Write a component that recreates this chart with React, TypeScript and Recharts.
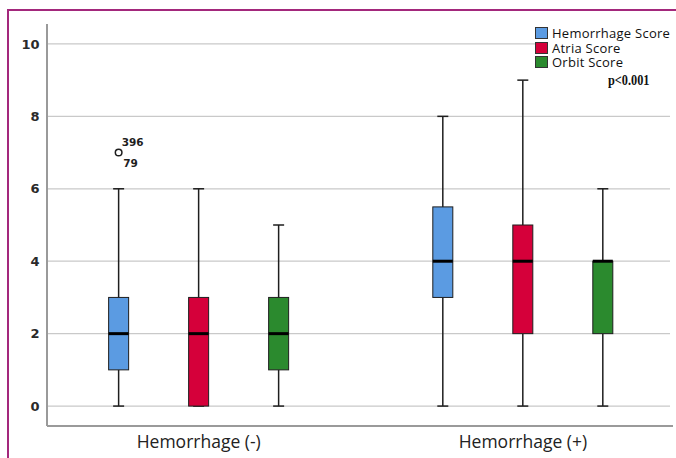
import { ComposedChart, Bar, XAxis, YAxis, CartesianGrid } from 'recharts';

const groups = ['Hemorrhage (-)', 'Hemorrhage (+)'];
const seriesNames = ['Hemorrhage Score', 'Atria Score', 'Orbit Score'];
const seriesColors = ['#5b9be2', '#d5003a', '#2b8a2e'];

// [min, q1, median, q3, max] per group
const hemorrhageScore = [
  [0, 1, 2, 3, 6],
  [0, 3, 4, 5.5, 8],
];
const atriaScore = [
  [0, 0, 2, 3, 6],
  [0, 2, 4, 5, 9],
];
const orbitScore = [
  [0, 1, 2, 3, 5],
  [0, 2, 4, 4, 6],
];

// outliers of the hemorrhage score, per group
const hemorrhageOutliers = [[{ value: 7, cases: ['396', '79'] }], []];

const yTicks = [0, 2, 4, 6, 8, 10];
const groupIdx = [0, 1];

const data = groups.map((g, i) => ({
  idx: groupIdx[i],
  group: g,
  hem: hemorrhageScore[i],
  atria: atriaScore[i],
  orbit: orbitScore[i],
  hemOut: hemorrhageOutliers[i],
}));

const INK = '#1e1e1e';

function BoxShape(props: any) {
  const { x, y, width, height, payload, statKey, outKey } = props;
  const s: number[] = payload[statKey];
  const [min, q1, med, q3, max] = s;
  const yTop = Math.min(y, y + height);
  const yBot = Math.max(y, y + height);
  const toPx = (v: number) => yBot - ((yBot - yTop) * (v - min)) / (max - min);
  const cx = x + width / 2;
  const cap = 5.5;
  const outs = outKey ? payload[outKey] || [] : [];
  return (
    <g>
      <line x1={cx} x2={cx} y1={toPx(max)} y2={toPx(q3)} stroke={INK} strokeWidth={1.5} />
      <line x1={cx} x2={cx} y1={toPx(q1)} y2={toPx(min)} stroke={INK} strokeWidth={1.5} />
      <line x1={cx - cap} x2={cx + cap} y1={toPx(max)} y2={toPx(max)} stroke={INK} strokeWidth={1.5} />
      <line x1={cx - cap} x2={cx + cap} y1={toPx(min)} y2={toPx(min)} stroke={INK} strokeWidth={1.5} />
      <rect
        x={x}
        y={toPx(q3)}
        width={width}
        height={toPx(q1) - toPx(q3)}
        fill={props.color}
        stroke={INK}
        strokeWidth={1}
      />
      <line x1={x} x2={x + width} y1={toPx(med)} y2={toPx(med)} stroke="#000" strokeWidth={3} />
      {outs.map((o: any, k: number) => {
        const oy = toPx(o.value);
        return (
          <g key={k}>
            <circle cx={cx} cy={oy} r={3.3} fill="#fff" stroke={INK} strokeWidth={1.5} />
            <text x={cx + 3} y={oy - 7} fontSize={10.5} fontWeight={600} fill={INK} fontFamily="'DejaVu Sans', sans-serif">
              {o.cases[0]}
            </text>
            <text x={cx + 4.5} y={oy + 14.5} fontSize={10.5} fontWeight={600} fill={INK} fontFamily="'DejaVu Sans', sans-serif">
              {o.cases[1]}
            </text>
          </g>
        );
      })}
    </g>
  );
}

const XTick = (p: any) => (
  <text x={p.x} y={p.y + 21.5} textAnchor="middle" fontSize={17.5} fill="#222" fontFamily="'Open Sans', sans-serif">
    {groups[p.payload.value]}
  </text>
);

const YTick = (p: any) => (
  <text x={p.x - 7.5} y={p.y} dy="0.36em" textAnchor="end" fontSize={13} fontWeight={600} fill="#2a2a2a" fontFamily="'DejaVu Sans', sans-serif">
    {p.payload.value}
  </text>
);

const keys = ['hem', 'atria', 'orbit'];

export default function App() {
  return (
    <div style={{ position: 'fixed', left: 0, top: 0, width: 676, height: 458, overflow: 'hidden', background: '#fff' }}>
      <div style={{ position: 'absolute', left: 0, top: 0 }}>
        <ComposedChart
          width={673}
          height={458}
          data={data}
          margin={{ top: 24, right: 0, bottom: 0, left: 0 }}
          barSize={20}
          barGap={60}
        >
          <CartesianGrid vertical={false} horizontalValues={yTicks} stroke="#c9c9c9" strokeWidth={1.2} />
          <XAxis
            dataKey="idx"
            type="number"
            domain={[-0.468, 1.463]}
            ticks={groupIdx}
            allowDataOverflow
            height={32}
            axisLine={{ stroke: '#9a9a9a', strokeWidth: 2 }}
            tickLine={false}
            tickSize={0}
            tickMargin={0}
            tick={<XTick />}
            interval={0}
          />
          <YAxis
            width={47}
            domain={[-0.55, 10.55]}
            ticks={yTicks}
            allowDataOverflow
            axisLine={{ stroke: '#9a9a9a', strokeWidth: 2 }}
            tickLine={false}
            tickSize={0}
            tickMargin={0}
            tick={<YTick />}
          />
          {keys.map((k, i) => (
            <Bar
              key={k}
              name={seriesNames[i]}
              dataKey={(d: any) => [d[k][0], d[k][4]]}
              fill={seriesColors[i]}
              isAnimationActive={false}
              shape={(p: any) => (
                <BoxShape {...p} statKey={k} outKey={k === 'hem' ? 'hemOut' : undefined} color={seriesColors[i]} />
              )}
            />
          ))}
        </ComposedChart>
      </div>
      {/* white masks over the plot's top and right edges */}
      <div style={{ position: 'absolute', left: 49, top: 21, width: 627, height: 5, background: '#fff' }} />
      <div style={{ position: 'absolute', left: 670, top: 20, width: 6, height: 404, background: '#fff' }} />
      <div
        style={{
          position: 'absolute',
          left: 7,
          top: 9,
          width: 760,
          height: 520,
          borderLeft: '2px solid #a3287c',
          borderTop: '2px solid #a3287c',
          pointerEvents: 'none',
        }}
      />
      <div
        style={{
          position: 'absolute',
          left: 535,
          top: 26,
          width: 141,
          background: '#fff',
          fontFamily: "'Open Sans', sans-serif",
          fontSize: 13,
          letterSpacing: 0.25,
          color: '#111',
          lineHeight: '14.5px',
        }}
      >
        {seriesNames.map((n, i) => (
          <div key={n} style={{ display: 'flex', alignItems: 'center', height: 14.5 }}>
            <span
              style={{
                display: 'inline-block',
                boxSizing: 'border-box',
                width: 13,
                height: 12,
                background: seriesColors[i],
                border: '1px solid #333',
                marginRight: 4,
              }}
            />
            <span>{n}</span>
          </div>
        ))}
      </div>
      <div
        style={{
          position: 'absolute',
          left: 608,
          top: 72,
          fontFamily: "'Liberation Serif', serif",
          fontWeight: 700,
          fontSize: 15,
          color: '#111',
          transform: 'scaleX(0.82)',
          transformOrigin: 'left center',
        }}
      >
        p&lt;0.001
      </div>
    </div>
  );
}
